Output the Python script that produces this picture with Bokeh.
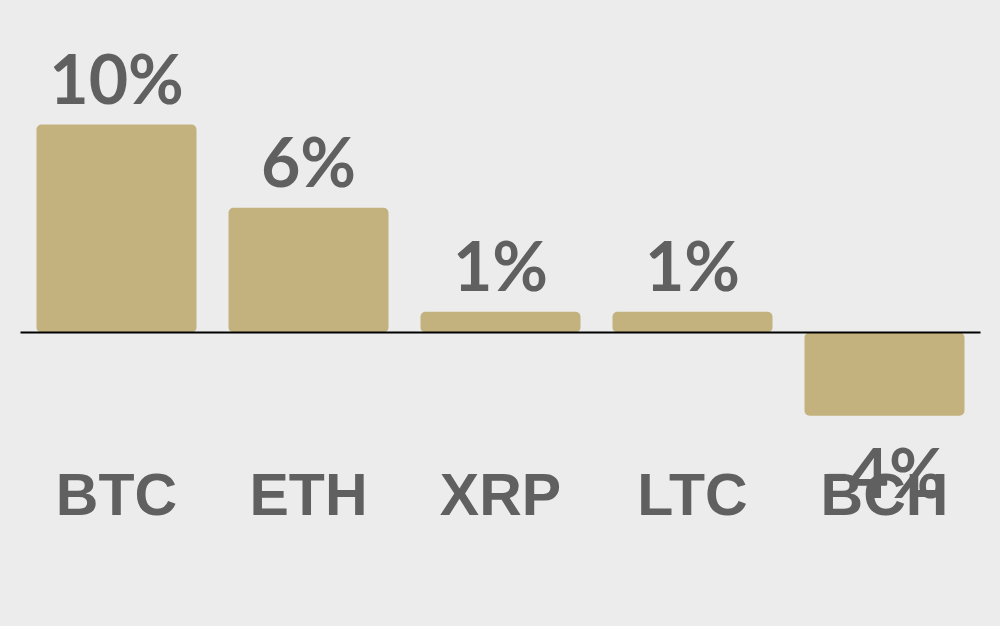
from bokeh.plotting import figure
from bokeh.models import ColumnDataSource, Range1d
from bokeh.core.properties import value
from bokeh.embed import file_html
from bokeh.resources import INLINE

coins = ["BTC", "ETH", "XRP", "LTC", "BCH"]
changes = [10, 6, 1, 1, -4]
labels = ["10%", "6%", "1%", "1%", "-4%"]

BG = "#ececec"
BAR = "#c4b27e"
TXT = "#606060"

xs = list(range(len(coins)))
pos = [i for i, v in enumerate(changes) if v >= 0]
neg = [i for i, v in enumerate(changes) if v < 0]

src = ColumnDataSource(dict(x=xs, top=changes, coin=coins, lab=labels))
src_pos = ColumnDataSource(dict(x=[xs[i] for i in pos], y=[changes[i] for i in pos],
                                lab=[labels[i] for i in pos]))
src_neg = ColumnDataSource(dict(x=[xs[i] for i in neg], y=[changes[i] for i in neg],
                                lab=[labels[i] for i in neg]))

W, H = 984, 610
px_per_slot = 192.0
px_per_unit = 20.8
x0 = -116 / px_per_slot
x1 = (W - 116) / px_per_slot
y1 = 332 / px_per_unit
y0 = -(H - 332) / px_per_unit

p = figure(width=W, height=H, output_backend="svg", toolbar_location=None,
           x_range=Range1d(x0, x1), y_range=Range1d(y0, y1),
           min_border=0)
p.axis.visible = False
p.grid.visible = False
p.outline_line_color = None
p.background_fill_color = BG
p.border_fill_color = BG

p.vbar(x="x", top="top", bottom=0, width=160 / 192, source=src,
       fill_color=BAR, line_color=None, border_radius=5)

p.segment(x0=[-0.5], x1=[len(coins) - 0.5], y0=[0], y1=[0],
          line_color="black", line_width=2)

p.text(x="x", y="y", text="lab", source=src_pos, text_align="center",
       text_baseline="alphabetic", y_offset=-47, text_color=TXT,
       text_font=value("Lato"), text_font_style="bold", text_font_size="68px")
p.text(x="x", y="y", text="lab", source=src_neg, text_align="center",
       text_baseline="alphabetic", y_offset=56, text_color=TXT,
       text_font=value("Lato"), text_font_style="bold", text_font_size="68px")

p.text(x="x", y=0, text="coin", source=src, text_align="center",
       text_baseline="alphabetic", y_offset=162, text_color=TXT,
       text_font=value("Liberation Sans"), text_font_style="bold",
       text_font_size="59px")

html = file_html(p, INLINE)
html = html.replace("<head>", "<head><style>html,body{background:#ececec;}</style>", 1)
open("out.html", "w").write(html)
